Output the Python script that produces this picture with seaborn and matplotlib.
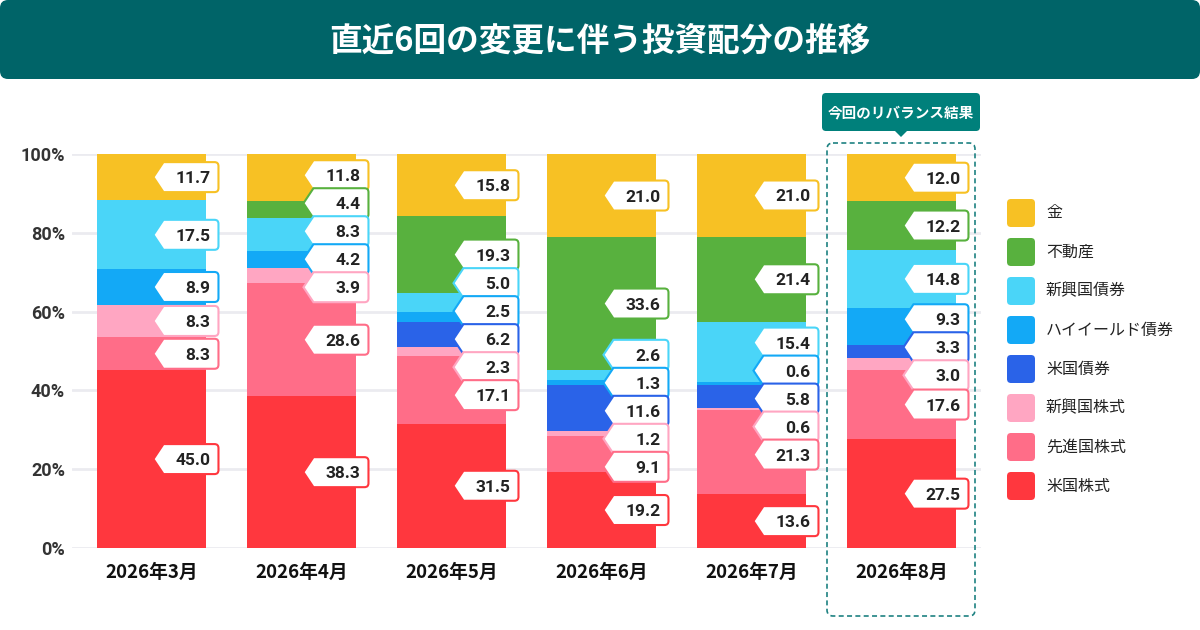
import numpy as np
import pandas as pd
import matplotlib
matplotlib.use("Agg")
import matplotlib.pyplot as plt
import seaborn as sns
from matplotlib.patches import FancyBboxPatch, PathPatch, Polygon
from matplotlib.path import Path
from matplotlib.transforms import Affine2D

# ---------------- data ----------------
months = ["2026年3月", "2026年4月", "2026年5月", "2026年6月", "2026年7月", "2026年8月"]
# bottom -> top stacking order
assets = ["米国株式", "先進国株式", "新興国株式", "米国債券", "ハイイールド債券", "新興国債券", "不動産", "金"]
us_stock = [45.0, 38.3, 31.5, 19.2, 13.6, 27.5]
dev_stock = [8.3, 28.6, 17.1, 9.1, 21.3, 17.6]
em_stock = [8.3, 3.9, 2.3, 1.2, 0.6, 3.0]
us_bond = [0.0, 0.0, 6.2, 11.6, 5.8, 3.3]
hy_bond = [8.9, 4.2, 2.5, 1.3, 0.6, 9.3]
em_bond = [17.5, 8.3, 5.0, 2.6, 15.4, 14.8]
reit = [0.0, 4.4, 19.3, 33.6, 21.4, 12.2]
gold = [11.7, 11.8, 15.8, 21.0, 21.0, 12.0]
colors = ["#FF373E", "#FF6D88", "#FFA6C2", "#2A63E8", "#13A9F6", "#4AD5F8", "#58B13E", "#F7C124"]
yticks = [0, 20, 40, 60, 80, 100]
ytick_labels = ["0%", "20%", "40%", "60%", "80%", "100%"]
title = "直近6回の変更に伴う投資配分の推移"
callout = "今回のリバランス結果"

series = [us_stock, dev_stock, em_stock, us_bond, hy_bond, em_bond, reit, gold]
df = pd.DataFrame({a: s for a, s in zip(assets, series)}, index=months)
norm = df.div(df.sum(axis=1), axis=0) * 100
cum = norm.cumsum(axis=1)

# ---------------- figure ----------------
sns.set_theme(style="white")
plt.rcParams["font.family"] = ["Noto Sans CJK JP", "DejaVu Sans"]

W, H = 1200, 630
fig = plt.figure(figsize=(W / 100, H / 100), dpi=100)
ax = fig.add_axes([72 / W, (H - 548) / H, 909 / W, 394 / H])

BAR_W = 0.733
for i in reversed(range(len(assets))):
    sns.barplot(x=months, y=cum[assets[i]].values, color=colors[i], saturation=1,
                width=BAR_W, errorbar=None, linewidth=0, ax=ax, zorder=2)

ax.set_xlim(-0.53, 5.53)
ax.set_ylim(0, 100)
ax.set_yticks(yticks)
ax.set_yticklabels(ytick_labels, fontfamily="Roboto", fontweight="bold",
                   fontsize=13, color="#333333")
ax.set_xticks(range(len(months)))
ax.set_xticklabels(months, fontweight="bold", fontsize=13.5, color="#111111")
ax.tick_params(axis="y", length=0, pad=5)
ax.tick_params(axis="x", length=0, pad=11)
ax.yaxis.grid(True, color="#EBEBF0", linewidth=2)
ax.xaxis.grid(False)
ax.set_axisbelow(True)
for s in ax.spines.values():
    s.set_visible(False)
ax.set_xlabel("")
ax.set_ylabel("")

# pixel transform (top-left origin)
px = Affine2D().scale(1, -1).translate(0, H)


def to_px(x, y):
    dx, dy = ax.transData.transform((x, y))
    return dx, H - dy


def spread(targets, sp, lo, hi):
    """Cluster-based de-overlap: overlapping labels are centred on their mean target."""
    clusters = [[t] for t in targets]
    starts = list(targets)
    changed = True
    while changed:
        changed = False
        # compute cluster starts
        for c in range(len(clusters)):
            n = len(clusters[c])
            mean = float(np.mean(clusters[c]))
            s = mean - sp * (n - 1) / 2
            s = max(s, lo)
            s = min(s, hi - sp * (n - 1))
            starts[c] = s
        for c in range(len(clusters) - 1):
            end = starts[c] + sp * (len(clusters[c]) - 1)
            if starts[c + 1] < end + sp - 1e-9:
                clusters[c] = clusters[c] + clusters[c + 1]
                del clusters[c + 1]
                del starts[c + 1]
                changed = True
                break
    out = []
    for c, cl in enumerate(clusters):
        out += [starts[c] + sp * k for k in range(len(cl))]
    return out


# ---------------- value labels ----------------
LH = 30
SP = 28
_, ytop = to_px(0, 100)
_, ybot = to_px(0, 0)
for j, m in enumerate(months):
    segs = []
    for i in reversed(range(len(assets))):
        v = df.loc[m, assets[i]]
        if v <= 0:
            continue
        top = cum.loc[m, assets[i]]
        bot = top - norm.loc[m, assets[i]]
        _, yc = to_px(j, (top + bot) / 2)
        segs.append((i, v, yc))
    ys = spread([s[2] for s in segs], SP, ytop + LH / 2, ybot - LH / 2)
    bar_right, _ = to_px(j + BAR_W / 2, 0)
    xr = bar_right + 12
    xt = bar_right - 53
    r = 4
    for (i, v, _), yc in zip(segs, ys):
        t, b = yc - LH / 2, yc + LH / 2
        verts = [(xt, yc), (xt + 10, t), (xr - r, t), (xr, t), (xr, t + r),
                 (xr, b - r), (xr, b), (xr - r, b), (xt + 10, b), (xt, yc), (xt, yc)]
        codes = [Path.MOVETO, Path.LINETO, Path.LINETO, Path.CURVE3, Path.CURVE3,
                 Path.LINETO, Path.CURVE3, Path.CURVE3, Path.LINETO, Path.LINETO, Path.CLOSEPOLY]
        fig.add_artist(PathPatch(Path(verts, codes), transform=px, facecolor="white",
                                 edgecolor=colors[i], linewidth=1.5, zorder=5))
        fig.text(xr - 8, yc, f"{v:.1f}", transform=px, ha="right", va="center_baseline",
                 fontfamily="Roboto", fontweight="bold", fontsize=12.5, color="#222222", zorder=6)

# ---------------- title banner ----------------
fig.add_artist(FancyBboxPatch((0, 0), W, 79, boxstyle="round,pad=0,rounding_size=8",
                              transform=px, facecolor="#006468", edgecolor="none", zorder=1))
fig.text(600, 41, title, transform=px, ha="center", va="center", color="white",
         fontsize=23.5, fontweight="bold", zorder=2)

# ---------------- highlight box ----------------
fig.add_artist(FancyBboxPatch((827, 143), 148, 473, boxstyle="round,pad=0,rounding_size=6",
                              transform=px, facecolor="none", edgecolor="#1E8282",
                              linewidth=1.2, linestyle=(0, (3, 2)), zorder=4))
fig.add_artist(FancyBboxPatch((822, 93), 158, 38, boxstyle="round,pad=0,rounding_size=4",
                              transform=px, facecolor="#00807B", edgecolor="none", zorder=4))
fig.add_artist(Polygon([(894, 130), (908, 130), (901, 137)], closed=True, transform=px,
                       facecolor="#00807B", edgecolor="none", zorder=4))
fig.text(901, 112.5, callout, transform=px, ha="center", va="center", color="white",
         fontsize=10.5, fontweight="bold", zorder=5)

# ---------------- legend ----------------
for k, i in enumerate(reversed(range(len(assets)))):
    y = 213 + 39 * k
    fig.add_artist(FancyBboxPatch((1007, y - 14), 28, 28, boxstyle="round,pad=0,rounding_size=4",
                                  transform=px, facecolor=colors[i], edgecolor="none", zorder=4))
    fig.text(1046, y, assets[i], transform=px, ha="left", va="center", color="#222222",
             fontsize=11.5, zorder=5)

fig.savefig("out.png", dpi=100)
